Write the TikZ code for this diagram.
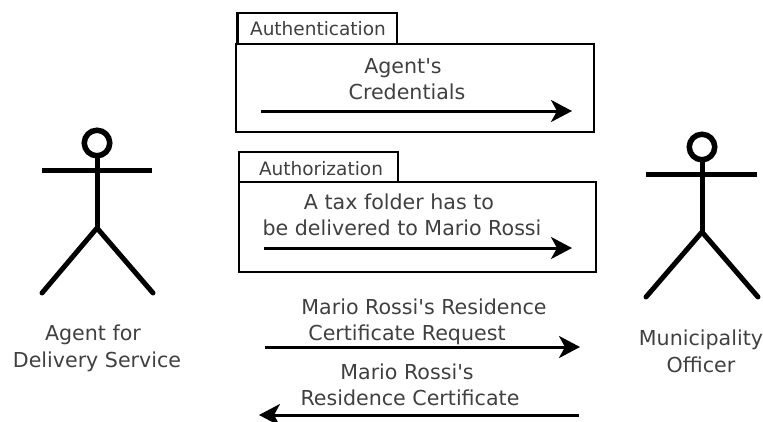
\documentclass[tikz,border=0pt]{standalone}
\usepackage{fontspec}
\setmainfont{DejaVu Sans}
\usetikzlibrary{arrows.meta}
\newcommand{\apos}{\textquotesingle}
\tikzset{
  txt/.style={anchor=base,inner sep=0pt,text=black!75,font=\fontsize{20.6}{24}\selectfont},
  tabtxt/.style={anchor=base,inner sep=0pt,text=black!75,font=\fontsize{18.5}{22}\selectfont},
  frame/.style={draw=black,line width=2.8pt,fill=white},
  msg/.style={draw=black,line width=3pt,-{Stealth[length=21pt,width=22pt,inset=6pt]}},
  limb/.style={draw=black,line width=5pt,line cap=round},
  headc/.style={circle,draw=black,line width=5.5pt,minimum size=25.5pt,inner sep=0pt,outer sep=0pt}
}
\begin{document}
\begin{tikzpicture}[x=1pt,y=-1pt]
\useasboundingbox (0,0) rectangle (763,421);
% tabs and boxes
\path[frame] (237.5,13) rectangle (397,44);
\path[frame] (236,44) rectangle (594,132);
\path[frame] (239,152) rectangle (398,182);
\path[frame] (239,182) rectangle (596,272);
% left actor
\node[headc] (headL) at (97,143) {};
\coordinate (armLa) at (42,170); \coordinate (armLb) at (152,170);
\coordinate (hipL) at (97,228);
\coordinate (legLa) at (42,293); \coordinate (legLb) at (153,293);
\draw[limb,line cap=butt] (armLa) -- (armLb);
\draw[limb,line cap=butt] (headL.south) -- (hipL);
\draw[limb] (legLa) -- (hipL) -- (legLb);
% right actor
\node[headc] (headR) at (702,147) {};
\coordinate (armRa) at (646,174); \coordinate (armRb) at (757,174);
\coordinate (hipR) at (702,232);
\coordinate (legRa) at (646,297); \coordinate (legRb) at (758,297);
\draw[limb,line cap=butt] (armRa) -- (armRb);
\draw[limb,line cap=butt] (headR.south) -- (hipR);
\draw[limb] (legRa) -- (hipR) -- (legRb);
% messages
\coordinate (m1a) at (261,111); \coordinate (m1b) at (572,111);
\coordinate (m2a) at (264,248); \coordinate (m2b) at (572,248);
\coordinate (m3a) at (265,347); \coordinate (m3b) at (580,347);
\coordinate (m4a) at (579,415); \coordinate (m4b) at (259,415);
\draw[msg] (m1a) -- (m1b);
\draw[msg] (m2a) -- (m2b);
\draw[msg] (m3a) -- (m3b);
\draw[msg] (m4a) -- (m4b);
% labels
\node[tabtxt] (t1) at (318,35) {Authentication};
\node[txt] (t2) at (403,73) {Agent\apos s};
\node[txt] (t3) at (407,99) {Credentials};
\node[tabtxt] (t4) at (321,175) {Authorization};
\node[txt] (t5) at (399,209) {A tax folder has to};
\node[txt] (t6) at (402,235) {be delivered to Mario Rossi};
\node[txt] (t7) at (424,314) {Mario Rossi\apos s Residence};
\node[txt] (t8) at (407,340) {Certificate Request};
\node[txt] (t9) at (407,379) {Mario Rossi\apos s};
\node[txt] (t10) at (410,405) {Residence Certificate};
\node[txt] (t11) at (93,340) {Agent for};
\node[txt] (t12) at (97,367) {Delivery Service};
\node[txt] (t13) at (701,345) {Municipality};
\node[txt] (t14) at (701,372) {Officer};
\end{tikzpicture}
\end{document}
